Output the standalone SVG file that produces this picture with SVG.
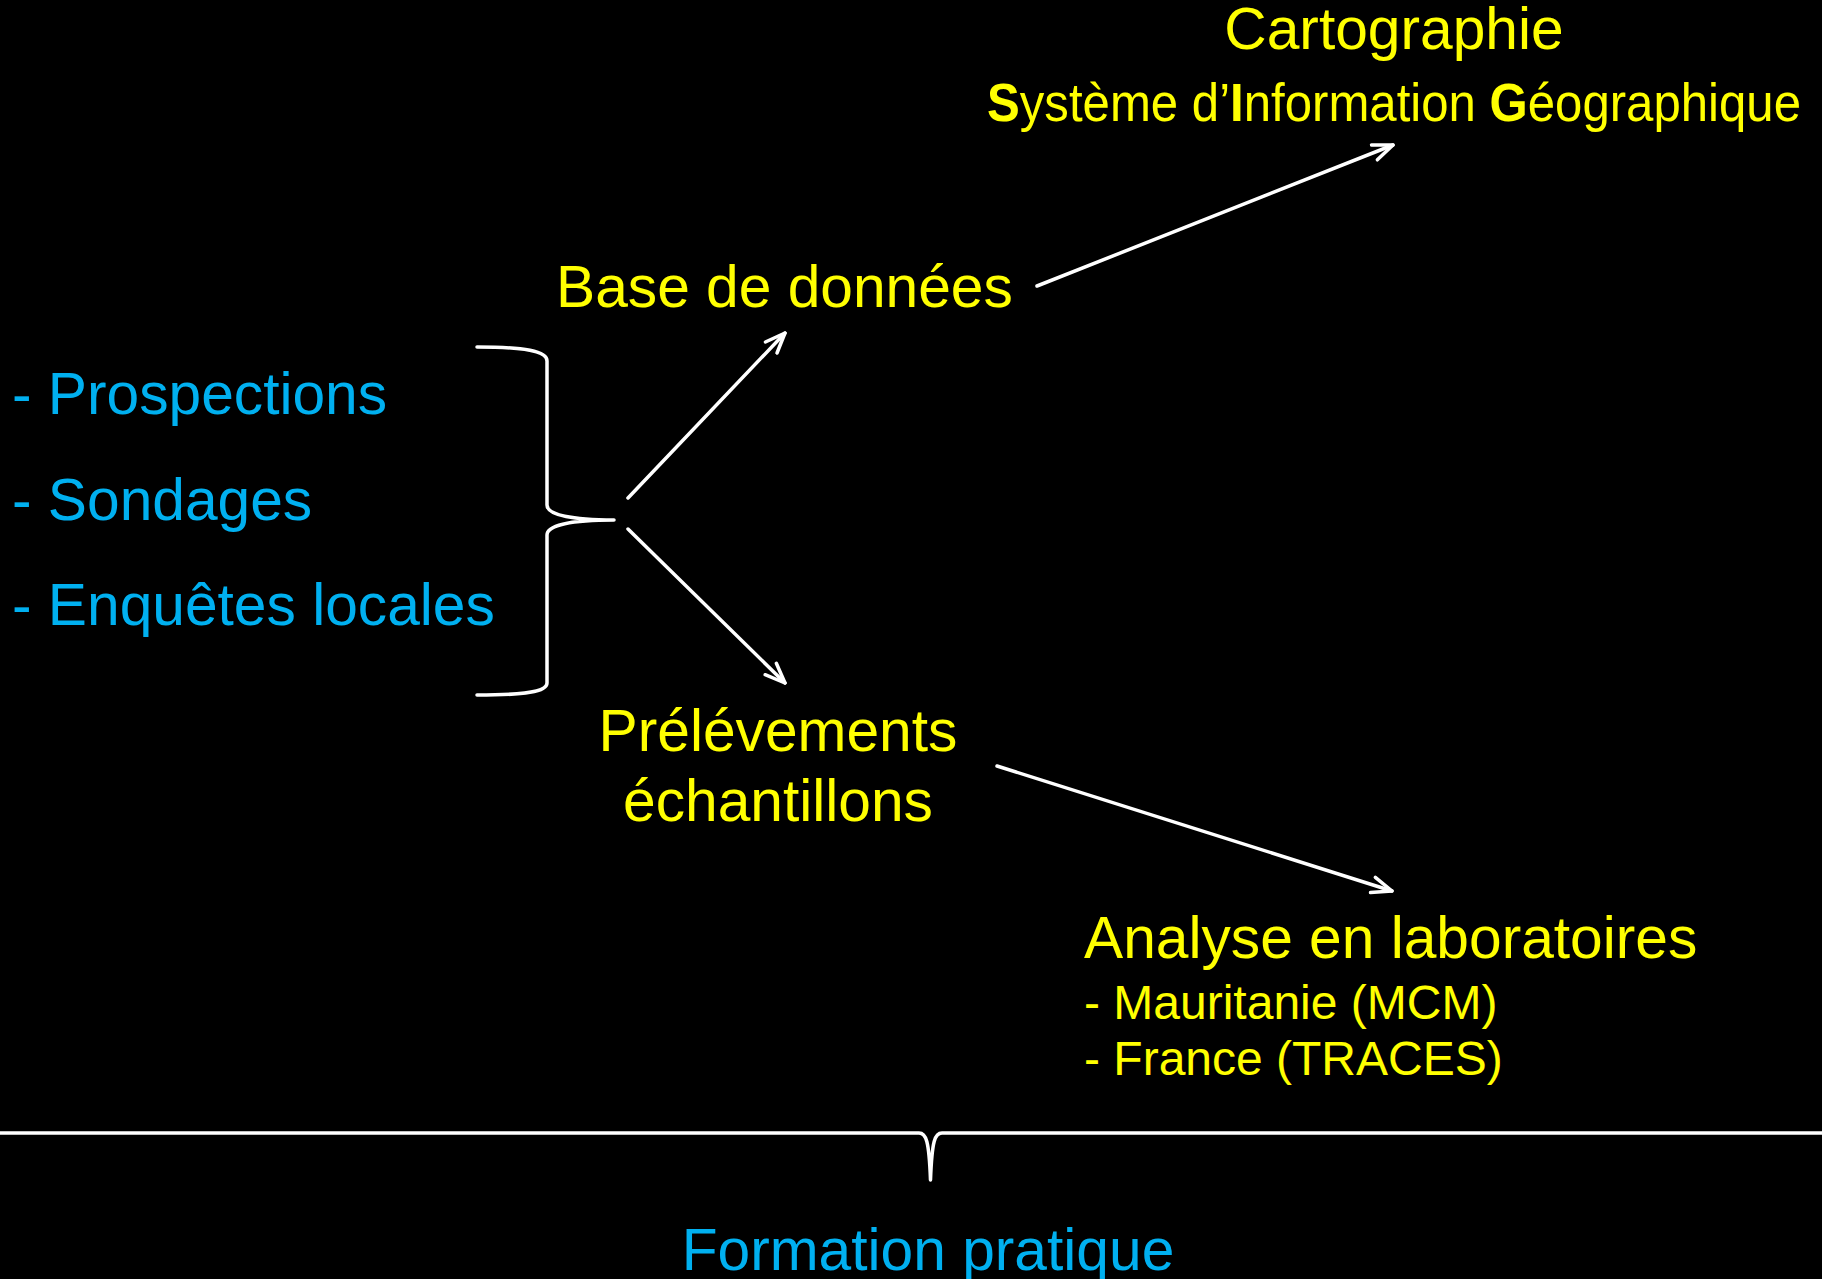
<svg xmlns="http://www.w3.org/2000/svg" width="1822" height="1279" viewBox="0 0 1822 1279">
<style>
text{font-family:"Liberation Sans",Arial,sans-serif}
.y{fill:#FFFF00}
.b{fill:#00B0F0}
.big{font-size:58.7px}
.small{font-size:48px}
.bold{font-weight:bold}
.ln{fill:none;stroke:#FFFFFF;stroke-width:3.5;stroke-linecap:round;stroke-linejoin:round}
</style>
<defs>
<marker id="ar" viewBox="0 0 24 24" refX="22" refY="12" markerWidth="24" markerHeight="24" markerUnits="userSpaceOnUse" orient="auto">
<polyline points="2,4 22,12 2,20" fill="none" stroke="#FFFFFF" stroke-width="3.5" stroke-linecap="round" stroke-linejoin="round"/>
</marker>
</defs>
<rect x="0" y="0" width="1822" height="1279" fill="#000000"/>
<g id="carto">
<text class="y big" x="1394" y="49" text-anchor="middle">Cartographie</text>
<text class="y" x="987" y="120.5" font-size="53" textLength="814" lengthAdjust="spacingAndGlyphs"><tspan class="bold">S</tspan>ystème d’<tspan class="bold">I</tspan>nformation <tspan class="bold">G</tspan>éographique</text>
</g>
<g id="base">
<text class="y big" x="556" y="307">Base de données</text>
</g>
<g id="sources">
<text class="b big" x="12" y="414">- Prospections</text>
<text class="b big" x="12" y="519.5">- Sondages</text>
<text class="b big" x="12" y="625">- Enquêtes locales</text>
</g>
<g id="prelev">
<text class="y big" x="778" y="751" text-anchor="middle">Prélévements</text>
<text class="y big" x="778" y="821" text-anchor="middle">échantillons</text>
</g>
<g id="analyse">
<text class="y big" x="1084" y="958">Analyse en laboratoires</text>
<text class="y small" x="1084" y="1019">- Mauritanie (MCM)</text>
<text class="y small" x="1084" y="1075">- France (TRACES)</text>
</g>
<g id="formation">
<text class="b big" x="928" y="1270" text-anchor="middle">Formation pratique</text>
</g>
<g id="connectors">
<path class="ln" d="M477,347 C525,347 547,351 547,361 L547,505 C547,515 572,520 614,520 C572,520 547,525 547,535 L547,683 C547,692 525,695 477,695"/>
<line class="ln" x1="628" y1="498" x2="785" y2="333" marker-end="url(#ar)"/>
<line class="ln" x1="628" y1="529" x2="785" y2="683" marker-end="url(#ar)"/>
<line class="ln" x1="1037" y1="286" x2="1393" y2="145" marker-end="url(#ar)"/>
<line class="ln" x1="997" y1="766" x2="1392" y2="891" marker-end="url(#ar)"/>
<path class="ln" stroke-linecap="butt" d="M-5,1133 L919,1133 C926,1133 929,1140 930.5,1180 C932,1140 935,1133 942,1133 L1827,1133"/>
</g>
</svg>
